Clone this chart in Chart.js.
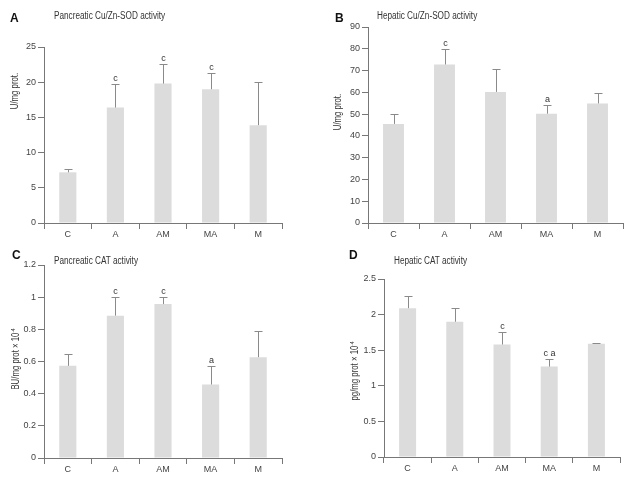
<!DOCTYPE html>
<html>
<head>
<meta charset="utf-8">
<script src="https://cdn.jsdelivr.net/npm/chart.js@4.4.1/dist/chart.umd.min.js"></script>
<style>
  body { margin: 0; background: #fff; font-family: 'Liberation Sans', Arial, sans-serif; }
  #wrap { position: relative; width: 630px; height: 480px; overflow: hidden; }
  .panel { position: absolute; width: 315px; height: 240px; }
  .txt { position: absolute; color: #333; white-space: nowrap; line-height: 1; }
  .letter { font-weight: bold; font-size: 12px; color: #111; }
  .title { font-size: 10px; transform: scaleX(0.82); transform-origin: left center; }
  .ylab { font-size: 10px; transform: translate(-50%, -50%) rotate(-90deg) scaleX(0.78); }
  .ylab sup { font-size: 6px; vertical-align: 4px; }
</style>
</head>
<body>
<div id="wrap">
  <canvas class="panel" id="chartA" width="315" height="240" style="left:0;top:0"></canvas>
  <canvas class="panel" id="chartB" width="315" height="240" style="left:315px;top:0"></canvas>
  <canvas class="panel" id="chartC" width="315" height="240" style="left:0;top:240px"></canvas>
  <canvas class="panel" id="chartD" width="315" height="240" style="left:315px;top:240px"></canvas>

  <div class="txt letter" style="left:10px;top:12px">A</div>
  <div class="txt title" style="left:54px;top:11px">Pancreatic Cu/Zn-SOD activity</div>
  <div class="txt ylab" style="left:15px;top:91px">U/mg prot.</div>

  <div class="txt letter" style="left:335px;top:12px">B</div>
  <div class="txt title" style="left:377px;top:11px">Hepatic Cu/Zn-SOD activity</div>
  <div class="txt ylab" style="left:338px;top:112px">U/mg prot.</div>

  <div class="txt letter" style="left:12px;top:249px">C</div>
  <div class="txt title" style="left:54px;top:256px">Pancreatic CAT activity</div>
  <div class="txt ylab" style="left:15px;top:359px">BU/mg prot × 10<sup>-4</sup></div>

  <div class="txt letter" style="left:349px;top:249px">D</div>
  <div class="txt title" style="left:394px;top:256px">Hepatic CAT activity</div>
  <div class="txt ylab" style="left:354px;top:371px">pg/mg prot × 10<sup>-4</sup></div>
</div>

<script>
// ─── Data ─────────────────────────────────────────────────────────────────
const groups = ['C', 'A', 'AM', 'MA', 'M'];

const sodPancMean = [7.2, 16.4, 19.8, 19.0, 13.9];
const sodPancSd   = [0.5, 3.3, 2.8, 2.3, 6.1];
const sodPancSig  = ['', 'c', 'c', 'c', ''];

const sodHepMean = [45.5, 72.8, 60.2, 50.2, 54.9];
const sodHepSd   = [4.4, 7.1, 10.4, 4.1, 4.7];
const sodHepSig  = ['', 'c', '', 'a', ''];

const catPancMean = [0.573, 0.885, 0.957, 0.457, 0.627];
const catPancSd   = [0.073, 0.115, 0.043, 0.112, 0.16];
const catPancSig  = ['', 'c', 'c', 'a', ''];

const catHepMean = [2.09, 1.90, 1.58, 1.27, 1.59];
const catHepSd   = [0.17, 0.19, 0.17, 0.10, 0.01];
const catHepSig  = ['', '', 'c', 'c a', ''];

const AXIS = '#777';
const BAR = '#dcdcdc';
const FONT = "'Liberation Sans', Arial, sans-serif";

// ─── Error bars + significance letters ────────────────────────────────────
const errorBars = {
  id: 'errorBars',
  afterDatasetsDraw(chart, args, opts) {
    const { ctx } = chart;
    const y = chart.scales.y;
    const meta = chart.getDatasetMeta(0);
    ctx.save();
    ctx.strokeStyle = '#8a8a8a';
    ctx.lineWidth = 1;
    meta.data.forEach((bar, i) => {
      const x = Math.round(bar.x) + 0.5;
      const top = Math.round(y.getPixelForValue(opts.mean[i] + opts.sd[i])) + 0.5;
      ctx.beginPath();
      ctx.moveTo(x, bar.y);
      ctx.lineTo(x, top);
      ctx.moveTo(x - 4, top);
      ctx.lineTo(x + 4, top);
      ctx.stroke();
      if (opts.sig[i]) {
        ctx.fillStyle = '#333';
        ctx.font = '9px ' + FONT;
        ctx.textAlign = 'center';
        ctx.textBaseline = 'bottom';
        ctx.fillText(opts.sig[i], x, top - 1);
      }
    });
    ctx.restore();
  }
};

function fmt(v) {
  return String(+v.toFixed(2));
}

function makePanel(id, mean, sd, sig, yMax, step, pad, barPct) {
  return new Chart(document.getElementById(id), {
    type: 'bar',
    data: {
      labels: groups,
      datasets: [{
        data: mean,
        backgroundColor: BAR,
        barPercentage: barPct,
        categoryPercentage: 1,
      }],
    },
    options: {
      responsive: false,
      animation: false,
      layout: { padding: pad },
      plugins: {
        legend: { display: false },
        tooltip: { enabled: false },
        errorBars: { mean, sd, sig },
      },
      scales: {
        x: {
          offset: true,
          grid: { offset: true, drawOnChartArea: false, tickLength: 6, color: AXIS },
          border: { color: AXIS },
          ticks: { color: '#444', padding: 0, font: { size: 9, family: FONT } },
          afterFit: (s) => { s.height = 15; },
        },
        y: {
          min: 0,
          max: yMax,
          grid: { drawOnChartArea: false, tickLength: 6, color: AXIS },
          border: { color: AXIS },
          ticks: { stepSize: step, color: '#444', padding: 2, callback: fmt, font: { size: 9, family: FONT } },
          afterFit: (s) => { s.width = 40; },
        },
      },
    },
    plugins: [errorBars],
  });
}

makePanel('chartA', sodPancMean, sodPancSd, sodPancSig, 25, 5,
  { left: 4, top: 47, right: 33, bottom: 2 }, 0.36);
makePanel('chartB', sodHepMean, sodHepSd, sodHepSig, 90, 10,
  { left: 13, top: 27, right: 7, bottom: 2 }, 0.41);
makePanel('chartC', catPancMean, catPancSd, catPancSig, 1.2, 0.2,
  { left: 4, top: 25, right: 33, bottom: 7 }, 0.36);
makePanel('chartD', catHepMean, catHepSd, catHepSig, 2.5, 0.5,
  { left: 29, top: 39, right: 10, bottom: 8 }, 0.36);
</script>
</body>
</html>
